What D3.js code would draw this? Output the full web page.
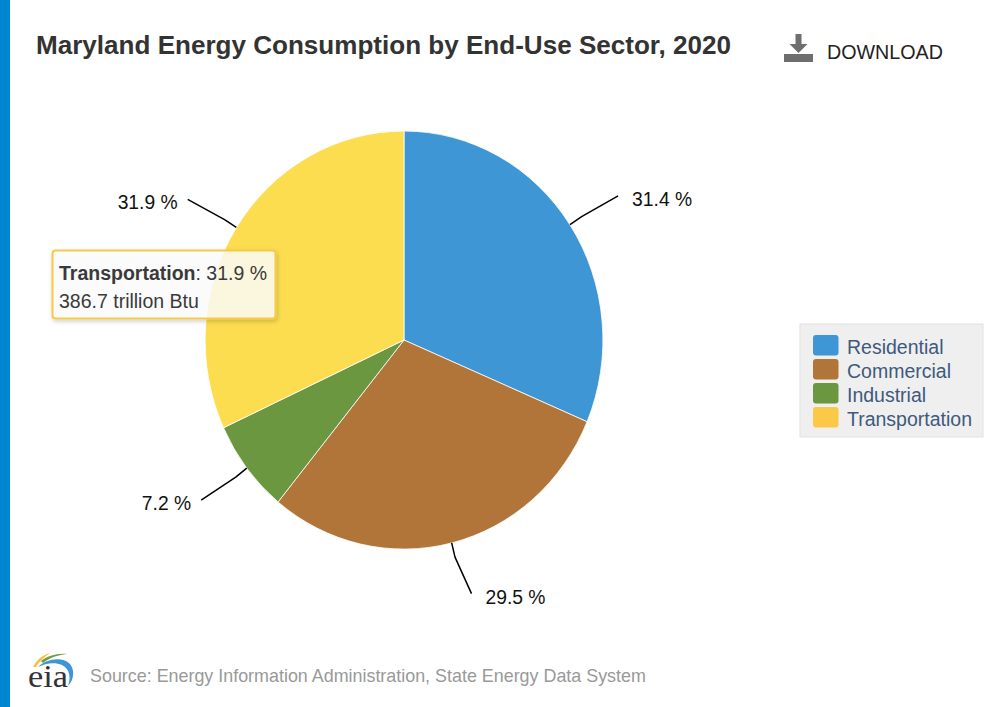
<!DOCTYPE html>
<html>
<head>
<meta charset="utf-8">
<script src="https://cdn.jsdelivr.net/npm/d3@7"></script>
<style>
html, body { margin: 0; padding: 0; background: #fff; overflow: hidden; }
svg text { font-family: "Liberation Sans", Arial, sans-serif; }
svg text.logoText { font-family: "Liberation Serif", serif; }
</style>
</head>
<body>
<svg id="chart"></svg>
<script>
// pie data
const categories = ["Residential", "Commercial", "Industrial", "Transportation"];
const shares = [31.4, 29.5, 7.2, 31.9];
const sliceColors = ["#3f96d5", "#b27539", "#6b9741", "#fbdd4f"];
const legendColors = ["#3f96d5", "#b27539", "#6b9741", "#fbc947"];

const chartTitle = "Maryland Energy Consumption by End-Use Sector, 2020";
const sourceText = "Source: Energy Information Administration, State Energy Data System";
const tooltipCategory = "Transportation";
const tooltipShare = ": 31.9 %";
const tooltipValue = "386.7 trillion Btu";

const wsvg = 1003;
const hsvg = 707;

const svg = d3.select("#chart")
    .attr("width", wsvg)
    .attr("height", hsvg)
    .style("display", "block");

const defs = svg.append("defs");
const shadow = defs.append("filter").attr("id", "tipShadow")
    .attr("x", "-10%").attr("y", "-20%").attr("width", "120%").attr("height", "150%");
shadow.append("feDropShadow")
    .attr("dx", 1).attr("dy", 2).attr("stdDeviation", 2)
    .attr("flood-color", "#000").attr("flood-opacity", 0.2);

// blue strip on the left
svg.append("rect").attr("x", 0).attr("y", 0).attr("width", 10).attr("height", hsvg).attr("fill", "#0085d1");

svg.append("text")
    .attr("x", 36).attr("y", 54)
    .attr("font-size", 26).attr("font-weight", "bold").attr("fill", "#333")
    .attr("textLength", 695).attr("lengthAdjust", "spacingAndGlyphs")
    .text(chartTitle);

// download icon
const dl = svg.append("g").attr("fill", "#6e6e6e");
dl.append("rect").attr("x", 784).attr("y", 54).attr("width", 29).attr("height", 8);
dl.append("path").attr("d", "M795.500 34h6v10h6l-9 9l-9-9h6z");
svg.append("text")
    .attr("x", 827).attr("y", 59)
    .attr("font-size", 19.700).attr("fill", "#222")
    .text("DOWNLOAD");

// PIE
const cx = 404, cy = 340, rx = 199, ry = 209;
const xStretch = d3.scaleLinear([-1, 1], [cx - rx, cx + rx]);
const yStretch = d3.scaleLinear([-1, 1], [cy - ry, cy + ry]);

const pie = d3.pie().sort(null).value(d => d.share);
const arc = d3.arc().innerRadius(0).outerRadius(1);
const arcs = pie(categories.map((name, i) => ({ name, share: shares[i], color: sliceColors[i] })));

const pieGroup = svg.append("g")
    .attr("transform", `translate(${cx},${cy}) scale(${rx},${ry})`);

pieGroup.selectAll("path")
    .data(arcs)
    .enter()
    .append("path")
    .attr("d", arc)
    .attr("fill", d => d.data.color)
    .attr("stroke", "#fff")
    .attr("stroke-width", 0.8)
    .attr("vector-effect", "non-scaling-stroke");

// leader lines and labels
function polar(d, rX, rY = rX) {
    const a = (d.startAngle + d.endAngle) / 2;
    return [xStretch(Math.sin(a) * rX), yStretch(-Math.cos(a) * rY)];
}

// the label under the pie sits a bit further right than the others
function leaderEnd(d) {
    const p = polar(d, 1.29, 1.25);
    return d.data.name === "Commercial" ? [p[0] + 6, p[1]] : p;
}

svg.append("g").selectAll("path")
    .data(arcs)
    .enter()
    .append("path")
    .attr("fill", "none")
    .attr("stroke", "#000")
    .attr("stroke-width", 1.5)
    .attr("stroke-linejoin", "round")
    .attr("d", d => d3.line()([polar(d, 1), polar(d, 1.07), leaderEnd(d)]));

svg.append("g").selectAll("text")
    .data(arcs)
    .enter()
    .append("text")
    .attr("x", d => leaderEnd(d)[0] + (leaderEnd(d)[0] > cx ? 14 : -10))
    .attr("y", d => leaderEnd(d)[1] + 10)
    .attr("text-anchor", d => leaderEnd(d)[0] > cx ? "start" : "end")
    .attr("font-size", 19.300)
    .attr("fill", "#111")
    .text(d => `${d.data.share} %`);

// tooltip
const tip = svg.append("g");
tip.append("rect")
    .attr("x", 52.500).attr("y", 250.500).attr("width", 223).attr("height", 68).attr("rx", 3)
    .attr("fill", "#fff").attr("fill-opacity", 0.8)
    .attr("stroke", "#f7c94c").attr("stroke-width", 2)
    .attr("filter", "url(#tipShadow)");
const tipLine = tip.append("text").attr("x", 59).attr("y", 280).attr("font-size", 19.500).attr("fill", "#3a3a3a");
tipLine.append("tspan").attr("font-weight", "bold").text(tooltipCategory);
tipLine.append("tspan").text(tooltipShare);
tip.append("text").attr("x", 59).attr("y", 308).attr("font-size", 19.500).attr("fill", "#3a3a3a").text(tooltipValue);

// legend
const legendY = d3.scaleBand().domain(categories).range([335, 431]);
const legend = svg.append("g");
legend.append("rect")
    .attr("x", 800).attr("y", 324).attr("width", 183).attr("height", 113)
    .attr("fill", "#efefef").attr("stroke", "#e2e2e2").attr("stroke-width", 1);
legend.selectAll("rect.key")
    .data(categories)
    .enter()
    .append("rect")
    .attr("class", "key")
    .attr("x", 813)
    .attr("y", d => legendY(d))
    .attr("width", 25.500)
    .attr("height", 20.500)
    .attr("rx", 3)
    .attr("fill", (d, i) => legendColors[i]);
legend.selectAll("text")
    .data(categories)
    .enter()
    .append("text")
    .attr("x", 847)
    .attr("y", d => legendY(d) + 19)
    .attr("font-size", 19.500)
    .attr("fill", "#3e5a7d")
    .text(d => d);

// eia logo
const logo = svg.append("g");
logo.append("path").attr("d", "M33 667C37 659 43 655 50 653C44 657 39 662 36 667Z").attr("fill", "#f5c242");
logo.append("path").attr("d", "M41 661C47 656 57 653 67 654C57 655 49 658 43 663Z").attr("fill", "#6f9e45");
logo.append("path").attr("d", "M38 667C46 659 62 656 70 664C75 670 74 680 68 686C71 678 70 669 62 665C55 662 46 663 38 667Z").attr("fill", "#3f96d5");
logo.append("text").attr("class", "logoText").attr("x", 28).attr("y", 687)
    .attr("font-size", 32).attr("fill", "#333")
    .attr("textLength", 40).attr("lengthAdjust", "spacingAndGlyphs")
    .text("eia");

svg.append("text")
    .attr("x", 90).attr("y", 682)
    .attr("font-size", 17.900).attr("fill", "#999")
    .text(sourceText);
</script>
</body>
</html>
